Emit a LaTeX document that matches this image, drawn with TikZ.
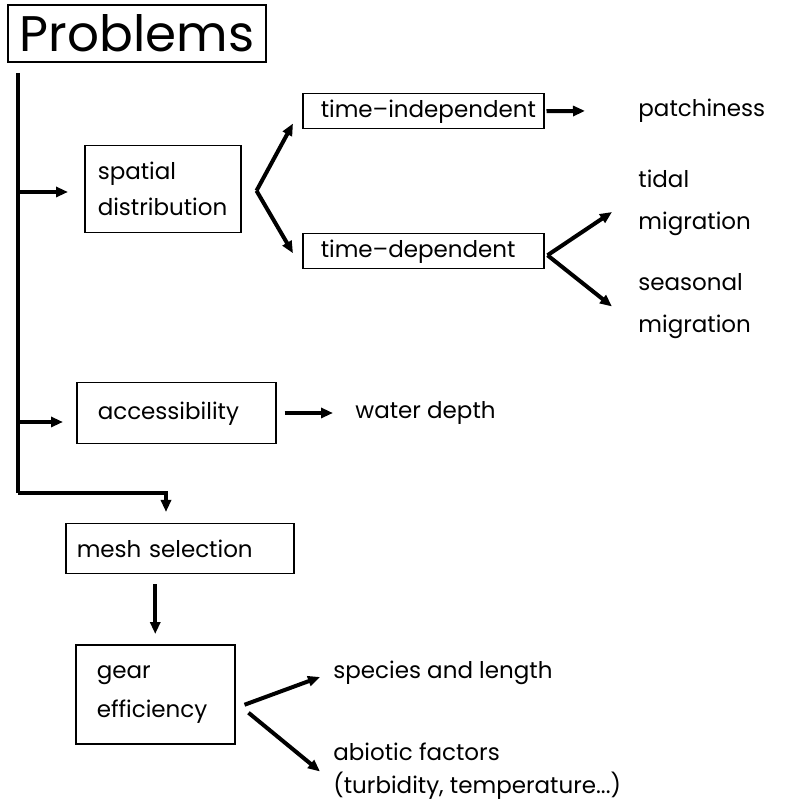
\documentclass[tikz,border=0pt]{standalone}
\usepackage{fontspec}
\setmainfont{Poppins}
\usetikzlibrary{arrows.meta, positioning, calc}

\begin{document}
\begin{tikzpicture}[
    x=0.5pt, y=-0.5pt,
    >={Triangle[length=6pt, width=5pt]},
    box/.style={rectangle, draw, line width=0.75pt, anchor=north west, inner ysep=0pt, align=left, font=\fontsize{11.5}{18}\selectfont},
    title/.style={rectangle, draw, line width=0.75pt, inner sep=0pt, minimum width=129pt, minimum height=28.5pt, font=\fontsize{25}{30}\selectfont},
    arrow/.style={->, line width=2pt},
    trunk/.style={line width=2pt},
    label/.style={anchor=west, inner sep=0pt, align=left, font=\fontsize{11.5}{21}\selectfont}
]
\useasboundingbox (0,0) rectangle (809,807);

% ========== TITLE ==========
\node[title] (problems) at (137,33.5) {Problems};

% ========== BOXES ==========
\node[box, inner xsep=6.5pt, text width=65pt, minimum width=78pt, minimum height=43.5pt] (spatial) at (84,145) {spatial\\distribution};
\node[box, inner xsep=9pt, text width=102.5pt, minimum height=17.5pt] (indep) at (302,93) {\mbox{time--independent}};
\node[box, inner xsep=9pt, text width=102.5pt, minimum height=17.5pt] (dep) at (302,233) {\mbox{time--dependent}};
\node[box, inner xsep=10.5pt, text width=78.5pt, minimum height=30.5pt] (access) at (76,382) {accessibility};
\node[box, inner xsep=5.5pt, text width=103pt, minimum height=25pt] (mesh) at (65,523) {mesh selection};
\node[box, inner xsep=10.5pt, text width=58.5pt, minimum height=49.5pt, font=\fontsize{11.5}{19.5}\selectfont] (gear) at (75,644) {gear\\efficiency};

% ========== LABELS ==========
\node[label] (patch) at (638,110.5) {patchiness};
\node[label] (tidal) at (638,202.5) {tidal\\migration};
\node[label] (seasonal) at (638,306.5) {seasonal\\migration};
\node[label] (water) at (355,413) {water depth};
\node[label] (species) at (333,673) {species and length};
\node[label, font=\fontsize{11.5}{16.5}\selectfont] (abiotic) at (333,771.5) {abiotic factors\\(turbidity, temperature...)};

% ========== TRUNK ==========
\coordinate (trunktop) at (18,73);
\coordinate (trunkbot) at (18,493);
\coordinate (meshin) at (166,512);
\draw[trunk] (trunktop) -- (trunkbot);
\draw[arrow] (trunkbot) -| (meshin);
\draw[arrow] (18,192) -- ([xshift=-8pt]spatial.west |- 0,192);
\draw[arrow] (18,422) -- ([xshift=-6.5pt]access.west |- 0,422);

% ========== FORKS ==========
\coordinate (fork1) at ([xshift=7.5pt,yshift=-0.75pt]spatial.east);
\draw[arrow] (fork1) -- ([xshift=-4.5pt,yshift=3pt]indep.south west);
\draw[arrow] (fork1) -- ([xshift=-4.5pt,yshift=-1pt]dep.west);

\coordinate (fork2) at ([xshift=1.5pt,yshift=-2pt]dep.east);
\draw[arrow] (fork2) -- ([xshift=-13pt,yshift=-4.75pt]tidal.west);
\draw[arrow] (fork2) -- ([xshift=-13pt]seasonal.west);

% ========== SIDE ARROWS ==========
\draw[arrow, shorten <=1pt, shorten >=26.5pt] (indep.east) -- (patch.west);
\draw[arrow, shorten <=4pt, shorten >=11pt] (access.east |- water.west) -- (water.west);
\draw[arrow, shorten <=5pt, shorten >=5pt] (gear.north |- mesh.south) -- (gear.north);
\draw[arrow] ([xshift=4.5pt,yshift=-5.25pt]gear.east) -- ([xshift=-6.5pt,yshift=-2pt]species.west);
\draw[arrow] ([xshift=6.5pt,yshift=-9.25pt]gear.east) -- ([xshift=-6.5pt]abiotic.west);

\end{tikzpicture}
\end{document}
